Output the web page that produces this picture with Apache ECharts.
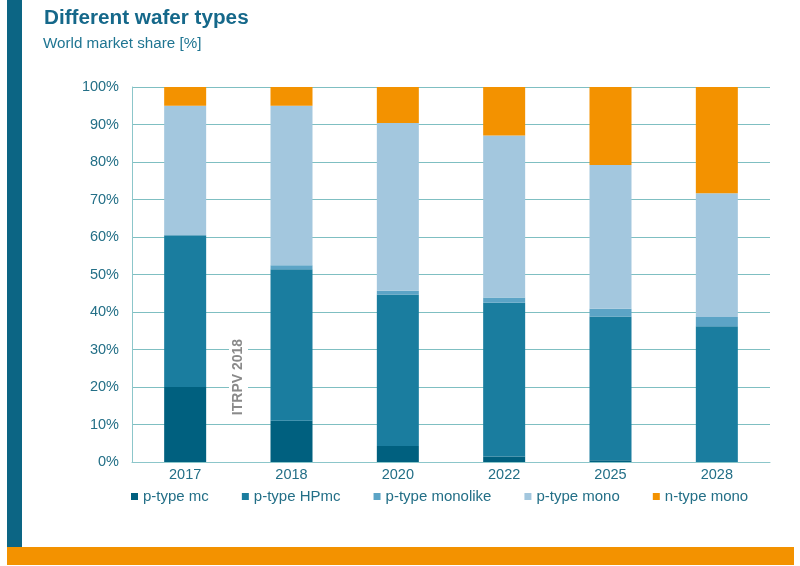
<!DOCTYPE html>
<html><head><meta charset="utf-8">
<script src="https://cdn.jsdelivr.net/npm/echarts@6/dist/echarts.min.js"></script>
<style>html,body{margin:0;padding:0;background:#fff}#c{width:800px;height:566px}</style>
</head><body><div id="c"></div>
<script>
const categories = ['2017','2018','2020','2022','2025','2028'];
const pTypeMc = [20, 11, 4.3, 1.5, 0.5, 0];
const pTypeHPmc = [40.5, 40.4, 40.4, 41, 38.3, 36.2];
const pTypeMonolike = [0, 1.1, 1, 1.4, 2.1, 2.5];
const pTypeMono = [34.5, 42.5, 44.7, 43.2, 38.3, 33];
const nTypeMono = [5, 5, 9.6, 12.9, 20.8, 28.3];
const yTicks = [0,10,20,30,40,50,60,70,80,90,100];

const names = ['p-type mc','p-type HPmc','p-type monolike','p-type mono','n-type mono'];
const colors = ['#00607f','#1a7d9f','#5ca4c6','#a3c7de','#f39200'];
const data = [pTypeMc, pTypeHPmc, pTypeMonolike, pTypeMono, nTypeMono];
const labelColor = '#236f87';
const font = 'Liberation Sans';

const chart = echarts.init(document.getElementById('c'));
chart.setOption({
  animation: false,
  textStyle: {fontFamily: font},
  title: [
    {text: 'Different wafer types', left: 39, top: 3, textStyle: {fontFamily: font, fontSize: 20.7, fontWeight: 'bold', color: '#15688a'}},
    {text: 'World market share [%]', left: 38, top: 31, textStyle: {fontFamily: font, fontSize: 15.2, fontWeight: 'normal', color: '#1f7592'}}
  ],
  legend: {
    data: names, bottom: 57, left: 126, itemWidth: 7, itemHeight: 7, itemGap: 33,
    icon: 'rect',
    textStyle: {fontFamily: font, fontSize: 15, color: labelColor}
  },
  grid: {left: 132, right: 30, top: 87, bottom: 104},
  xAxis: {
    type: 'category', data: categories,
    axisLine: {lineStyle: {color: '#8cc6ca', width: 1}},
    axisTick: {show: false},
    axisLabel: {fontFamily: font, fontSize: 14.5, color: labelColor, margin: 5}
  },
  yAxis: {
    type: 'value', min: 0, max: 100, interval: 10,
    axisLine: {show: true, lineStyle: {color: '#8cc6ca'}},
    axisTick: {show: false},
    splitLine: {lineStyle: {color: '#7fbfc2', width: 1}},
    axisLabel: {fontFamily: font, fontSize: 14.5, color: labelColor, margin: 13, formatter: v => yTicks.includes(v) ? v + '%' : ''}
  },
  series: names.map((n, i) => ({
    name: n, type: 'bar', stack: 'total', barWidth: '39.5%',
    itemStyle: {color: colors[i]},
    data: data[i]
  })),
  graphic: [
    {type: 'rect', shape: {x: 7, y: 0, width: 15, height: 547}, style: {fill: '#0c6584'}},
    {type: 'rect', shape: {x: 7, y: 547, width: 787, height: 18}, style: {fill: '#f39200'}},
    {type: 'rect', shape: {x: 229, y: 333, width: 19, height: 88}, style: {fill: '#ffffff'}, z: 10},
    {type: 'text', x: 238, y: 377, rotation: Math.PI/2, z: 11,
     style: {text: 'ITRPV 2018', fill: '#8a8a8a', font: 'bold 14px "Liberation Sans"', textAlign: 'center', textVerticalAlign: 'middle'}}
  ]
});
</script></body></html>
